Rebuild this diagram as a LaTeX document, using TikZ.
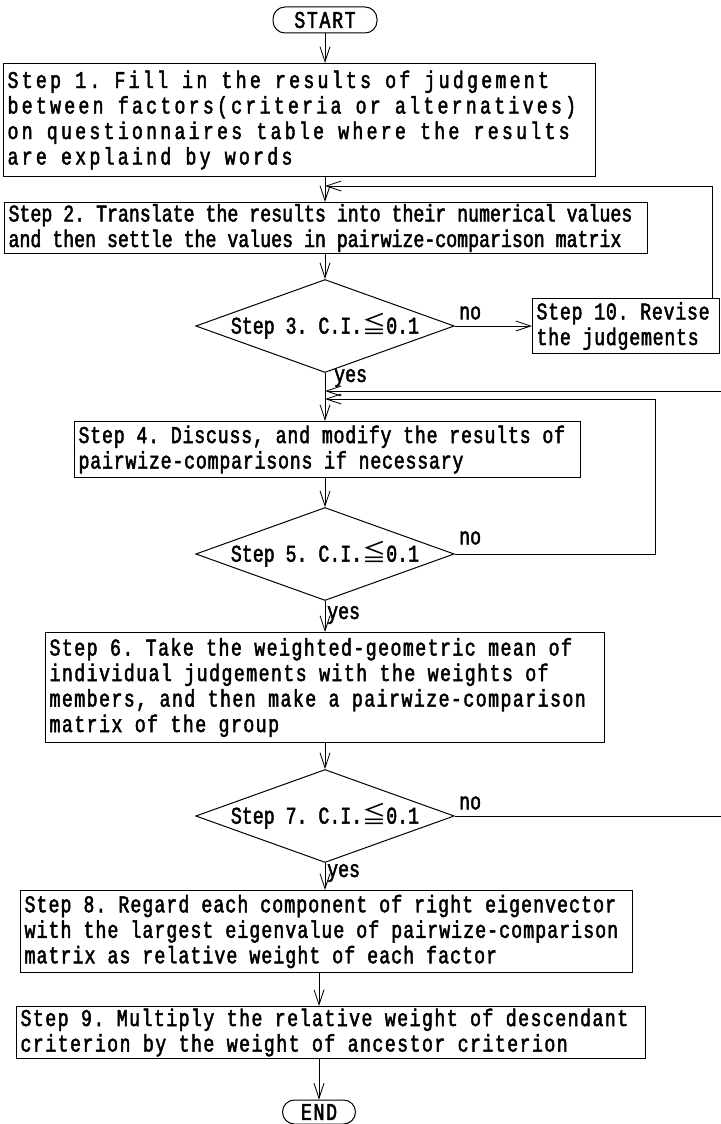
\documentclass[tikz,border=0pt]{standalone}
\usepackage{fontspec}
\newfontfamily\flowfont{Liberation Mono}[FakeStretch=0.76,FakeBold=2]
\newfontfamily\symfont{Noto Sans CJK JP}
\usetikzlibrary{arrows.meta,shapes.geometric,calc}

% monospaced text with extra tracking #1 (percent of the size); word spaces take one full cell
\newcommand{\cellfont}[1]{\flowfont\fontsize{24}{25.5}\selectfont
  \addfontfeatures{LetterSpace=#1}%
  \fontdimen2\font=\dimexpr10.94pt+#1pt*24/100\relax
  \fontdimen3\font=0pt \fontdimen4\font=0pt }
\newcommand{\cellspaces}{\spaceskip=\fontdimen2\font\xspaceskip=\fontdimen2\font
  \hyphenpenalty=10000\relax}

\tikzset{
  base/.style={font=\cellfont{0}, execute at begin node=\cellspaces},
  track/.style={font=\cellfont{#1}, execute at begin node=\cellspaces},
  stepbox/.style={draw, line width=1.1pt, rectangle, anchor=north west,
    inner xsep=4pt, inner ysep=0pt, align=left},
  decision/.style={base, draw, line width=1pt, diamond, aspect=2.78,
    inner sep=0pt, minimum width=242pt, minimum height=87pt},
  terminal/.style={draw, line width=1pt, rectangle, rounded corners=12pt, inner sep=0pt},
  flow/.style={line width=0.8pt, -{Straight Barb[length=15pt,width=10pt,line width=0.8pt]}},
  tag/.style={base, inner sep=0pt, anchor=west},
}
\newcommand{\ciLeq}{{\symfont ≦}}

\begin{document}
\begin{tikzpicture}[x=1pt,y=-1pt]
\path[use as bounding box, fill=white] (0,0) rectangle (720,1124);

% terminals
\node[terminal, track=6.9, minimum width=104pt, minimum height=26pt] (start) at (325,20) {START};
\node[terminal, track=6.9, minimum width=73pt, minimum height=24pt] (fin) at (319,1112) {END};

% process steps
\node[stepbox, track=13.5, text width=584pt, minimum height=113pt] (s1) at (3,63)
  {Step 1. Fill in the results of judgement\\between factors(criteria or alternatives)\\on questionnaires table where the results\\are explaind by words};
\node[stepbox, track=0, text width=635pt, minimum height=51pt] (s2) at (4,202)
  {Step 2. Translate the results into their numerical values\\and then settle the values in pairwize-comparison matrix};
\node[stepbox, track=3.1, text width=179pt, minimum height=55pt] (s10) at (532,298)
  {Step 10. Revise\\the judgements};
\node[stepbox, track=3.3, text width=498pt, minimum height=56pt] (s4) at (74,421)
  {Step 4. Discuss, and modify the results of\\pairwize-comparisons if necessary};
\node[stepbox, track=6.0, text width=551pt, minimum height=110pt] (s6) at (45,632)
  {Step 6. Take the weighted-geometric mean of\\individual judgements with the weights of\\members, and then make a pairwize-comparison\\matrix of the group};
\node[stepbox, track=4.4, text width=604pt, minimum height=82pt] (s8) at (20,890)
  {Step 8. Regard each component of right eigenvector\\with the largest eigenvalue of pairwize-comparison\\matrix as relative weight of each factor};
\node[stepbox, track=6.0, text width=621pt, minimum height=52pt] (s9) at (16,1006)
  {Step 9. Multiply the relative weight of descendant\\criterion by the weight of ancestor criterion};

% decisions
\node[decision] (d3) at (325,326) {Step 3. C.I.\ciLeq0.1};
\node[decision] (d5) at (325,554) {Step 5. C.I.\ciLeq0.1};
\node[decision] (d7) at (325,816) {Step 7. C.I.\ciLeq0.1};

% junctions where the loops re-enter the main line
\coordinate (j1) at (325,186);
\coordinate (j7) at (325,391);
\coordinate (j5) at (325,399);

% main line
\draw[flow] (start) -- (s1.north -| start);
\draw[flow] (s1.south -| start) -- (s2.north -| start);
\draw[flow] (s2.south -| start) -- (d3.north);
\draw[flow] (d3.south) -- (s4.north -| d3.south);
\draw[flow] (s4.south -| start) -- (d5.north);
\draw[flow] (d5.south) -- (s6.north -| d5.south);
\draw[flow] (s6.south -| start) -- (d7.north);
\draw[flow] (d7.south) -- (s8.north -| d7.south);
\draw[flow] (s8.south -| fin) -- (s9.north -| fin);
\draw[flow] (s9.south -| fin) -- (fin);

% loops back
\draw[flow] (d3.east) -- (d3.east -| s10.west);
\draw[flow] ($(s10.north east)+(-8,0)$) |- (j1);
\draw[flow] (d5.east) -- ++(201,0) |- (j5);
\draw[flow] (d7.east) -- ++(271,0) |- (j7);

% branch labels
\node[tag] (y3) at (334,378) {yes};
\node[tag] (y5) at (327,615) {yes};
\node[tag] (y7) at (327,873) {yes};
\node[tag] (n3) at (459,313) {no};
\node[tag] (n5) at (459,538) {no};
\node[tag] (n7) at (459,803) {no};
\end{tikzpicture}
\end{document}
